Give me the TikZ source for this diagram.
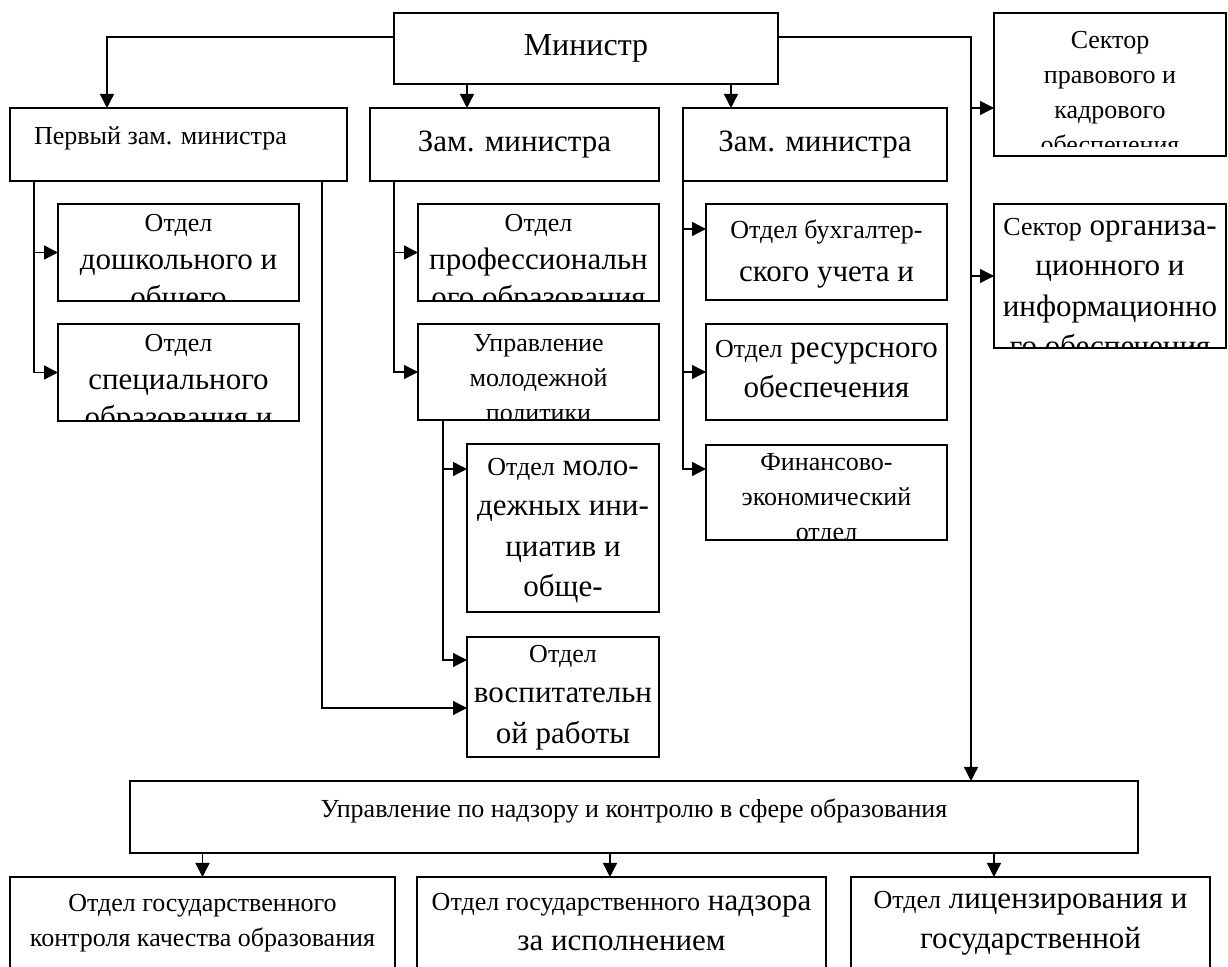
\documentclass[tikz,border=0pt]{standalone}
\usepackage{fontspec}
\setmainfont{Liberation Serif}
\usetikzlibrary{arrows.meta}
\newcommand{\smtxt}{\fontsize{13}{17.5}\selectfont}
\newcommand{\bgtxt}{\fontsize{15.5}{20.25}\selectfont}
\tikzset{
    box/.style={draw, line width=0.9pt, inner sep=0pt, outer sep=0pt},
    inner/.style={align=center, inner sep=0pt, minimum width=0pt, minimum height=0pt, anchor=north},
    lines/.style 2 args={path picture={\node[inner, font=\smtxt]
        at ([yshift=-#1]path picture bounding box.north) {#2};}},
    biglines/.style 2 args={path picture={\node[inner, font=\bgtxt]
        at ([yshift=-#1]path picture bounding box.north) {#2};}},
    arr/.style={line width=0.7pt, -{Triangle[length=7pt,width=7pt]}}
}
\begin{document}
\begin{tikzpicture}[x=0.5pt,y=-0.5pt]
        \clip (0,0) rectangle (1228,967);
        %% Top level
        \node[box, minimum width=192pt, minimum height=35.5pt, font=\fontsize{16}{19}\selectfont] (min) at (586,48.5) {Министр};
        \node[box, minimum width=168.5pt, minimum height=36.5pt,
            path picture={\node[inner, anchor=center, font=\smtxt] at ([xshift=-9pt,yshift=3pt]path picture bounding box.center) {Первый зам. министра};}] (zam1) at (178.5,144.5) {};
        \node[box, minimum width=144.5pt, minimum height=36.5pt, font=\bgtxt] (zam2) at (514.5,144.5) {Зам. министра};
        \node[box, minimum width=132pt, minimum height=36.5pt, font=\bgtxt] (zam3) at (815,144.5) {Зам. министра};
        \node[box, minimum width=116pt, minimum height=71.5pt,
            path picture={\clip ([yshift=4.5pt]path picture bounding box.south west) rectangle (path picture bounding box.north east);
                \node[inner, font=\smtxt] at ([yshift=-9pt]path picture bounding box.north) {Сектор\\правового и\\кадрового\\обеспечения};}] (sect1) at (1110,84.5) {};
        \node[box, minimum width=116pt, minimum height=72pt,
            biglines={7pt}{{\smtxt Сектор} организа-\\ционного и\\информационно\\го обеспечения}] (sect2) at (1110,276) {};
        %% First deputy
        \node[box, minimum width=120.5pt, minimum height=48.5pt,
            biglines={5pt}{{\smtxt Отдел}\\[-1.25pt]дошкольного и\\[-1.25pt]общего}] (dosh) at (178.5,252.5) {};
        \node[box, minimum width=120.5pt, minimum height=48.5pt,
            biglines={5pt}{{\smtxt Отдел}\\[-1.25pt]специального\\[-1.25pt]образования и}] (spec) at (178.5,372.5) {};
        %% Deputy 1
        \node[box, minimum width=120.5pt, minimum height=48.5pt,
            biglines={5pt}{{\smtxt Отдел}\\[-1.25pt]профессиональн\\[-1.25pt]ого образования}] (prof) at (538.5,252.5) {};
        \node[box, minimum width=120.5pt, minimum height=48pt,
            lines={5pt}{Управление\\молодежной\\политики}] (uprmol) at (538.5,372) {};
        \node[box, minimum width=96pt, minimum height=84pt,
            biglines={7pt}{{\smtxt Отдел} моло-\\дежных ини-\\циатив и\\обще-}] (molin) at (563,528) {};
        \node[box, minimum width=96pt, minimum height=60pt,
            biglines={4pt}{{\smtxt Отдел}\\воспитательн\\ой работы}] (vosp) at (563,697) {};
        %% Deputy 2
        \node[box, minimum width=120.5pt, minimum height=48pt,
            biglines={8pt}{{\smtxt Отдел бухгалтер-}\\[1.25pt]ского учета и}] (buh) at (826.5,252) {};
        \node[box, minimum width=120.5pt, minimum height=48pt,
            biglines={8pt}{{\smtxt Отдел} ресурсного\\обеспечения}] (resurs) at (826.5,372) {};
        \node[box, minimum width=120.5pt, minimum height=47.5pt,
            lines={4pt}{Финансово-\\экономический\\отдел}] (fin) at (826.5,492.5) {};
        %% Supervision
        \node[box, minimum width=504pt, minimum height=36pt,
            lines={9pt}{Управление по надзору и контролю в сфере образования}] (nadzor) at (634,817) {};
        \node[box, minimum width=192.5pt, minimum height=61.5pt,
            lines={8.5pt}{Отдел государственного\\контроля качества образования}] (bot1) at (202.5,938.5) {};
        \node[box, minimum width=204.5pt, minimum height=61.5pt,
            biglines={8pt}{{\smtxt Отдел государственного} надзора\\за исполнением}] (bot2) at (621.5,938.5) {};
        \node[box, minimum width=179.5pt, minimum height=61.5pt,
            biglines={7pt}{{\smtxt Отдел} лицензирования и\\государственной}] (bot3) at (1030.5,938.5) {};
        %% Connectors
        \coordinate (lbus) at (107,37);
        \coordinate (rbus) at (971,37);
        \draw[arr] (min.west |- lbus) -| (zam1.north -| lbus);
        \draw[arr] (min.east |- rbus) -| (nadzor.north -| rbus);
        \draw[arr] (min.south -| 467,0) -- (zam2.north -| 467,0);
        \draw[arr] (min.south -| 731,0) -- (zam3.north -| 731,0);
        \draw[arr] (rbus |- 0,108) -- (sect1.west |- 0,108);
        \draw[arr] (rbus |- sect2.west) -- (sect2.west);
        % first deputy
        \draw[arr] (zam1.south -| 34,0) |- (spec.west);
        \draw[arr] (dosh.west -| 34,0) -- (dosh.west);
        \draw[arr] (zam1.south -| 322,0) |- (vosp.west |- 0,708);
        % deputy 1
        \draw[arr] (zam2.south -| 394,0) |- (uprmol.west);
        \draw[arr] (prof.west -| 394,0) -- (prof.west);
        \draw[arr] (uprmol.south -| 443,0) |- (vosp.west |- 0,660);
        \draw[arr] (443,469) -- (molin.west |- 0,469);
        % deputy 2
        \draw[arr] (zam3.south -| 683,0) |- (fin.west |- 0,469);
        \draw[arr] (683,229) -- (buh.west |- 0,229);
        \draw[arr] (resurs.west -| 683,0) -- (resurs.west);
        % supervision
        \draw[arr] (nadzor.south -| bot1.north) -- (bot1.north);
        \draw[arr] (nadzor.south -| 610,0) -- (bot2.north -| 610,0);
        \draw[arr] (nadzor.south -| 994,0) -- (bot3.north -| 994,0);
\end{tikzpicture}
\end{document}
